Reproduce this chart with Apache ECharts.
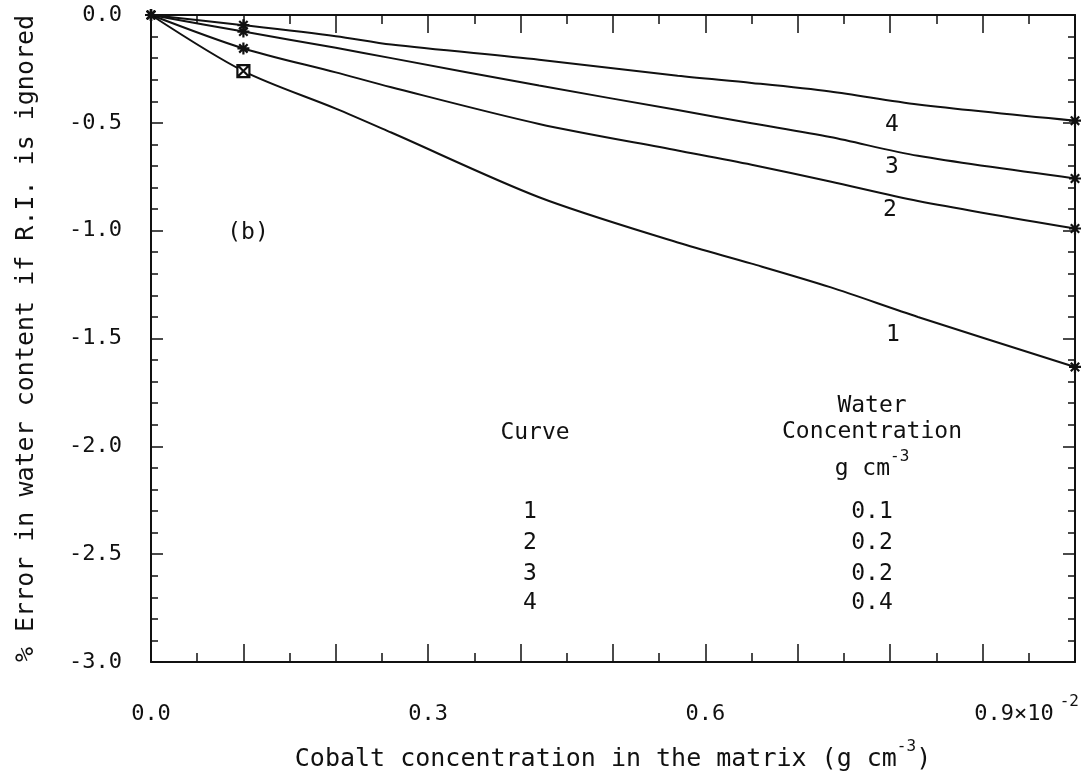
<!DOCTYPE html>
<html>
<head>
<meta charset="utf-8">
<style>
  html, body { margin: 0; padding: 0; background: #fff; }
  #chart { width: 1090px; height: 784px; }
</style>
<script src="https://cdn.jsdelivr.net/npm/echarts@6/dist/echarts.min.js"></script>
</head>
<body>
<div id="chart"></div>
<script>
// ── Data ────────────────────────────────────────────────────────────────────
const cobalt = [0, 0.1, 0.2, 0.26, 0.42, 0.57, 0.65, 0.735, 0.83, 1.0];
const curve1 = [0, -0.26, -0.434, -0.545, -0.845, -1.055, -1.153, -1.262, -1.4, -1.632];
const curve2 = [0, -0.155, -0.266, -0.335, -0.505, -0.628, -0.694, -0.772, -0.862, -0.99];
const curve3 = [0, -0.077, -0.152, -0.2, -0.327, -0.441, -0.502, -0.566, -0.653, -0.758];
const curve4 = [0, -0.047, -0.098, -0.137, -0.207, -0.282, -0.315, -0.355, -0.415, -0.49];
const markedIdx = [0, 1, 9];            // points drawn with a marker
const curveNames = ['1', '2', '3', '4'];
const waterConc = ['0.1', '0.2', '0.2', '0.4'];
const xLabelTicks = [0, 3, 6, 9];       // tenths that carry a label

const FONT = '"DejaVu Sans Mono", monospace';
const INK = '#111';
const STAR = 'path://M0 5H10M5 0V10M1.5 1.5L8.5 8.5M8.5 1.5L1.5 8.5';
const BOX = 'path://M1 1H9V9H1ZM1 1L9 9M9 1L1 9';

const SUP = { fontFamily: FONT, fontSize: 16, lineHeight: 12, verticalAlign: 'top', color: INK };

// ── Axis factories (all four frame sides carry inward ticks) ───────────────
function xAxis(position, labels) {
  return {
    type: 'value', position, min: 0, max: 1, interval: 0.1,
    axisLine: { onZero: false, lineStyle: { color: INK, width: 2 } },
    axisTick: { inside: true, length: 18, lineStyle: { color: INK, width: 1.5 } },
    minorTick: { show: true, splitNumber: 2, length: 9, lineStyle: { color: INK, width: 1.5 } },
    splitLine: { show: false },
    axisLabel: labels ? {
      show: true, margin: 32, lineHeight: 40,
      fontFamily: FONT, fontSize: 22, color: INK,
      formatter: v => {
        const t = Math.round(v * 10);
        if (!xLabelTicks.includes(t)) return '';
        if (t === 9) return '{p| }0.9×10{s|-2}';
        return v.toFixed(1);
      },
      rich: { p: { width: 88 }, s: Object.assign({ padding: [0, 0, 0, 6] }, SUP) },
    } : { show: false },
    name: labels ? 'Cobalt concentration in the matrix (g cm{s|-3})' : '',
    nameLocation: 'middle', nameGap: 77,
    nameTextStyle: { fontFamily: FONT, fontSize: 25, color: INK, lineHeight: 40, rich: { s: SUP } },
  };
}

function yAxis(position, labels) {
  return {
    type: 'value', position, min: -3, max: 0, interval: 0.5,
    axisLine: { onZero: false, lineStyle: { color: INK, width: 2 } },
    axisTick: { inside: true, length: 12, lineStyle: { color: INK, width: 1.5 } },
    minorTick: { show: true, splitNumber: 5, length: 7, lineStyle: { color: INK, width: 1.5 } },
    splitLine: { show: false },
    axisLabel: labels ? {
      show: true, margin: 29, fontFamily: FONT, fontSize: 22, color: INK,
      formatter: v => v.toFixed(1),
    } : { show: false },
    name: labels ? '% Error in water content if R.I. is ignored' : '',
    nameLocation: 'middle', nameGap: 112,
    nameTextStyle: { fontFamily: FONT, fontSize: 25, color: INK },
  };
}

const curves = [curve1, curve2, curve3, curve4];

const series = curves.map((c, k) => ({
  type: 'line',
  name: curveNames[k],
  smooth: 0.3,
  symbol: STAR,
  symbolSize: 12,
  lineStyle: { color: INK, width: 2 },
  itemStyle: { color: INK, borderColor: INK, borderWidth: 2.2 },
  emphasis: { disabled: true },
  data: cobalt.map((x, i) => {
    const item = { value: [x, c[i]] };
    if (!markedIdx.includes(i)) item.symbol = 'none';
    else if (k === 0 && i === 1) { item.symbol = BOX; item.itemStyle = { color: '#fff' }; }
    return item;
  }),
}));

// ── Annotations: panel tag, curve numbers, key table ───────────────────────
function txt(x, y, text, size, extra) {
  return {
    type: 'text', x, y, silent: true,
    style: Object.assign({
      text, fontFamily: FONT, fontSize: size || 23, fill: INK,
      align: 'center', verticalAlign: 'middle',
    }, extra || {}),
  };
}

const curveLabelPos = [[893, 335], [890, 210], [892, 167], [892, 125]];
const rowY = [512, 543, 574, 603];

const graphics = [
  txt(248, 233, '(b)'),
  ...curveNames.map((n, i) => txt(curveLabelPos[i][0], curveLabelPos[i][1], n)),
  txt(535, 433, 'Curve'),
  txt(872, 406, 'Water'),
  txt(872, 432, 'Concentration'),
  txt(872, 469, 'g cm{s|-3}', 23, { lineHeight: 40, rich: { s: SUP } }),
  ...curveNames.map((n, i) => txt(530, rowY[i], n)),
  ...waterConc.map((w, i) => txt(872, rowY[i], w)),
];

const chart = echarts.init(document.getElementById('chart'), null, { renderer: 'canvas' });
chart.setOption({
  animation: false,
  backgroundColor: '#fff',
  textStyle: { fontFamily: FONT, color: INK },
  grid: { left: 151, right: 15, top: 15, bottom: 113, containLabel: false },
  xAxis: [xAxis('bottom', true), xAxis('top', false)],
  yAxis: [yAxis('left', true), yAxis('right', false)],
  series,
  graphic: graphics,
});
</script>
</body>
</html>
